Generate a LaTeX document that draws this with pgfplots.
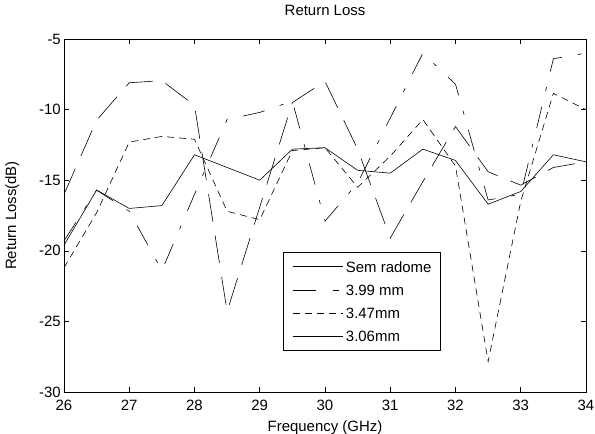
\documentclass[border=0pt]{standalone}
\usepackage{pgfplots}
\pgfplotsset{compat=1.18}
\usepackage{fontspec}
\setmainfont{Liberation Sans}

% x = 26:0.5:34 GHz, return loss in dB
\begin{document}
\begin{tikzpicture}
\begin{axis}[
  scale only axis,
  width=522bp, height=353bp,
  xmin=26, xmax=34, ymin=-30, ymax=-5,
  xtick={26,27,...,34}, ytick={-30,-25,...,-5},
  tick align=inside, major tick length=5bp,
  tick style={black, line width=0.5pt},
  axis line style={black, line width=0.8pt},
  /pgf/number format/assume math mode=true,
  ticklabel style={font=\fontsize{15}{18}\selectfont},
  xticklabel style={anchor=base, yshift=-18bp},
  yticklabel style={anchor=east, inner sep=0pt, xshift=-3bp},
  title={Return Loss},
  every axis title/.style={font=\fontsize{15}{18}\selectfont,
    at={(axis description cs:0.5,1)}, anchor=base, yshift=23.5bp},
  xlabel={Frequency (GHz)},
  every axis x label/.style={font=\fontsize{15}{18}\selectfont,
    at={(axis description cs:0.5,0)}, anchor=base, yshift=-39bp},
  ylabel={Return Loss(dB)},
  every axis y label/.style={font=\fontsize{15}{18}\selectfont,
    at={(axis description cs:-0.09195,0.5)}, rotate=90, anchor=base},
  legend cell align=left,
  legend style={at={(0.4195,0.3966)}, anchor=north west,
    draw=black, line width=0.8pt, font=\fontsize{15}{18}\selectfont,
    nodes={inner sep=0pt, text height=10.7bp, text depth=0bp},
    row sep=12.4bp, column sep=3bp, inner xsep=9bp, inner ysep=9bp},
  legend image code/.code={\draw[#1, line width=0.6pt] (0bp,0bp) -- (50bp,0bp);},
]

% Sem radome
\addplot[black, line width=0.6pt, forget plot] coordinates {
  (26,-19.6) (26.5,-15.7) (27,-17.0) (27.5,-16.8) (28,-13.2) (28.5,-14.1)
  (29,-15.0) (29.5,-12.8) (30,-12.7) (30.5,-14.3) (31,-14.5) (31.5,-12.8)
  (32,-13.6) (32.5,-16.7) (33,-15.8) (33.5,-13.2) (34,-13.7)
};

% 3.99 mm
\addplot[black, line width=0.6pt, dash pattern=on 22bp off 16bp on 4bp off 16bp, forget plot] coordinates {
  (26,-19.3) (26.5,-15.7) (27,-17.2) (27.5,-21.4) (28,-16.0) (28.5,-10.7)
  (29,-10.2) (29.5,-9.4) (30,-17.9) (30.5,-15.2) (31,-10.6) (31.5,-6.0)
  (32,-8.2) (32.5,-16.4) (33,-16.0) (33.5,-6.4) (34,-6.0)
};

% 3.47mm
\addplot[black, line width=0.6pt, dash pattern=on 7bp off 5bp, forget plot] coordinates {
  (26,-21.2) (26.5,-17.3) (27,-12.3) (27.5,-11.9) (28,-12.1) (28.5,-17.2)
  (29,-17.8) (29.5,-12.9) (30,-12.7) (30.5,-15.5) (31,-13.3) (31.5,-10.7)
  (32,-14.0) (32.5,-27.85) (33,-16.5) (33.5,-8.85) (34,-10.0)
};

% 3.06mm
\addplot[black, line width=0.6pt, dash pattern=on 28bp off 14bp, forget plot] coordinates {
  (26,-16.0) (26.5,-10.75) (27,-8.1) (27.5,-7.95) (28,-9.7) (28.5,-24.3)
  (29,-16.9) (29.5,-9.5) (30,-8.0) (30.5,-12.8) (31,-19.1) (31.5,-15.1)
  (32,-11.2) (32.5,-14.4) (33,-15.35) (33.5,-14.1) (34,-13.7)
};

\addlegendimage{black}
\addlegendentry{Sem radome}
\addlegendimage{black, dash pattern=on 23bp off 17bp on 6bp off 17bp}
\addlegendentry{3.99 mm}
\addlegendimage{black, dash pattern=on 7bp off 5bp}
\addlegendentry{3.47mm}
\addlegendimage{black}
\addlegendentry{3.06mm}
\end{axis}
\pgfresetboundingbox
\path[use as bounding box] (current axis.south west) ++(-64bp,-42bp) rectangle ++(595bp,434bp);
\end{tikzpicture}
\end{document}
